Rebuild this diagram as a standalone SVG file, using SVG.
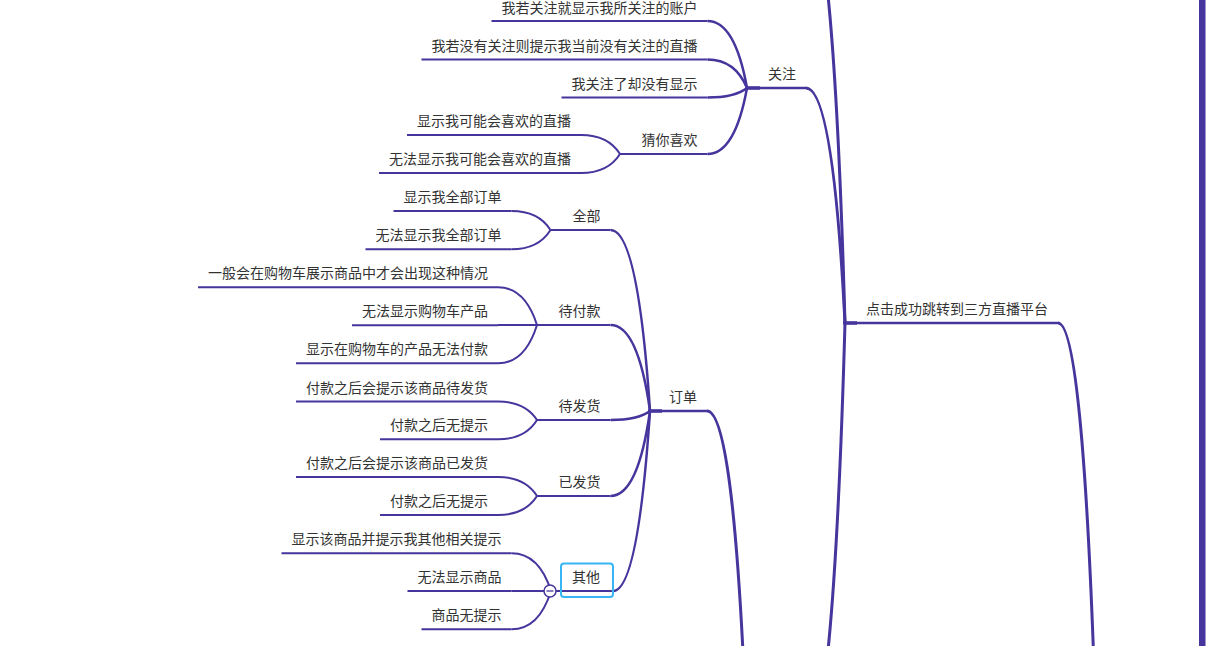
<svg xmlns="http://www.w3.org/2000/svg" width="1217" height="646" viewBox="0 0 1217 646">
<style>
  .t{font-family:"Noto Sans CJK SC","Noto Sans",sans-serif;font-size:14px;fill:#333;text-anchor:end}
  .u{stroke:#45359c;stroke-width:2;fill:none;stroke-linecap:butt}
  .um{stroke:#45359c;stroke-width:2.5;fill:none}
  .j{stroke:#45359c;stroke-width:3.5;fill:none}
  .c1{stroke:#45359c;stroke-width:3;fill:none}
  .c2{stroke:#45359c;stroke-width:2.5;fill:none}
  .c3{stroke:#45359c;stroke-width:2;fill:none}
</style>
<rect x="0" y="0" width="1217" height="646" fill="#ffffff"/>
<rect x="1199" y="0" width="6.5" height="646" fill="#45359c"/>

<g id="connectors">
  <path class="c1" d="M1098,800 Q1086,323 1058,323"/>
  <path class="c1" d="M845,323 Q833,-100 805,-100"/>
  <path class="c1" d="M845,323 Q833,88 806,88"/>
  <path class="c1" d="M845,323 Q833,746 805,746"/>
  <path class="c1" d="M747,746 Q735,411 707,411"/>

  <path class="c2" d="M747,88 Q735,21 707.5,21"/>
  <path class="c2" d="M747,88 Q735,59.5 707.5,59.5"/>
  <path class="c2" d="M747,88 Q735,97.5 707.5,97.5"/>
  <path class="c2" d="M747,88 Q735,154 707.5,154"/>

  <path class="c3" d="M620,154 Q608,135 581,135"/>
  <path class="c3" d="M620,154 Q608,173 581,173"/>

  <path class="c2" d="M650,411 Q638,230 610.5,230"/>
  <path class="c2" d="M650,411 Q638,325 610.5,325"/>
  <path class="c2" d="M650,411 Q638,420 610.5,420"/>
  <path class="c2" d="M650,411 Q638,496 610.5,496"/>
  <path class="c2" d="M650,411 Q638,591 613,591"/>

  <path class="c3" d="M550.5,230 Q538.5,211 511.5,211"/>
  <path class="c3" d="M550.5,230 Q538.5,249.3 511.5,249.3"/>

  <path class="c3" d="M537,325 Q525,287.3 498,287.3"/>
  <path class="c3" d="M537,325 L498,325"/>
  <path class="c3" d="M537,325 Q525,363.3 498,363.3"/>

  <path class="c3" d="M537,420 Q525,401.5 498,401.5"/>
  <path class="c3" d="M537,420 Q525,439.3 498,439.3"/>

  <path class="c3" d="M537,496 Q525,477 498,477"/>
  <path class="c3" d="M537,496 Q525,515 498,515"/>

  <path class="c3" d="M551,591 Q539,553.3 511.5,553.3"/>
  <path class="c3" d="M551,591 L511.5,591"/>
  <path class="c3" d="M551,591 Q539,629.3 511.5,629.3"/>
</g>

<g id="n-dianji">
  <line class="um" x1="845" y1="323" x2="1058" y2="323"/>
  <line class="j" x1="843" y1="323" x2="857" y2="323"/>
  <text class="t" x="1048" y="314">点击成功跳转到三方直播平台</text>
</g>

<g id="n-guanzhu">
  <line class="um" x1="747" y1="88" x2="806" y2="88"/>
  <line class="j" x1="746" y1="88" x2="760" y2="88"/>
  <text class="t" x="796" y="79">关注</text>
</g>
<g id="n-gz1">
  <line class="u" x1="491.5" y1="21" x2="707.5" y2="21"/>
  <text class="t" x="697.5" y="13">我若关注就显示我所关注的账户</text>
</g>
<g id="n-gz2">
  <line class="u" x1="421.5" y1="59.5" x2="707.5" y2="59.5"/>
  <text class="t" x="697.5" y="50.5">我若没有关注则提示我当前没有关注的直播</text>
</g>
<g id="n-gz3">
  <line class="u" x1="561.5" y1="97.5" x2="707.5" y2="97.5"/>
  <text class="t" x="697.5" y="88.5">我关注了却没有显示</text>
</g>
<g id="n-cainixihuan">
  <line class="u" x1="620" y1="154" x2="707.5" y2="154"/>
  <text class="t" x="697.5" y="145">猜你喜欢</text>
</g>
<g id="n-cn1">
  <line class="u" x1="407" y1="135" x2="581" y2="135"/>
  <text class="t" x="571" y="126">显示我可能会喜欢的直播</text>
</g>
<g id="n-cn2">
  <line class="u" x1="379" y1="173" x2="581" y2="173"/>
  <text class="t" x="571" y="164">无法显示我可能会喜欢的直播</text>
</g>

<g id="n-dingdan">
  <line class="um" x1="650" y1="411" x2="707" y2="411"/>
  <line class="j" x1="648" y1="411" x2="662" y2="411"/>
  <text class="t" x="697" y="402">订单</text>
</g>

<g id="n-quanbu">
  <line class="u" x1="550.5" y1="230" x2="610.5" y2="230"/>
  <text class="t" x="600.5" y="221">全部</text>
</g>
<g id="n-qb1">
  <line class="u" x1="393.5" y1="211" x2="511.5" y2="211"/>
  <text class="t" x="501.5" y="202">显示我全部订单</text>
</g>
<g id="n-qb2">
  <line class="u" x1="365.5" y1="249.3" x2="511.5" y2="249.3"/>
  <text class="t" x="501.5" y="240.3">无法显示我全部订单</text>
</g>

<g id="n-daifukuan">
  <line class="u" x1="537" y1="325" x2="610.5" y2="325"/>
  <text class="t" x="600.5" y="316">待付款</text>
</g>
<g id="n-df1">
  <line class="u" x1="198" y1="287.3" x2="498" y2="287.3"/>
  <text class="t" x="488" y="278.3">一般会在购物车展示商品中才会出现这种情况</text>
</g>
<g id="n-df2">
  <line class="u" x1="352" y1="325.3" x2="498" y2="325.3"/>
  <text class="t" x="488" y="316.3">无法显示购物车产品</text>
</g>
<g id="n-df3">
  <line class="u" x1="296" y1="363.3" x2="498" y2="363.3"/>
  <text class="t" x="488" y="354.3">显示在购物车的产品无法付款</text>
</g>

<g id="n-daifahuo">
  <line class="u" x1="537" y1="420" x2="610.5" y2="420"/>
  <text class="t" x="600.5" y="411">待发货</text>
</g>
<g id="n-dfh1">
  <line class="u" x1="296" y1="401.5" x2="498" y2="401.5"/>
  <text class="t" x="488" y="392.5">付款之后会提示该商品待发货</text>
</g>
<g id="n-dfh2">
  <line class="u" x1="380" y1="439.3" x2="498" y2="439.3"/>
  <text class="t" x="488" y="430.3">付款之后无提示</text>
</g>

<g id="n-yifahuo">
  <line class="u" x1="537" y1="496" x2="610.5" y2="496"/>
  <text class="t" x="600.5" y="487">已发货</text>
</g>
<g id="n-yfh1">
  <line class="u" x1="296" y1="477" x2="498" y2="477"/>
  <text class="t" x="488" y="468">付款之后会提示该商品已发货</text>
</g>
<g id="n-yfh2">
  <line class="u" x1="380" y1="515" x2="498" y2="515"/>
  <text class="t" x="488" y="506">付款之后无提示</text>
</g>

<g id="n-qita">
  <line class="u" x1="551" y1="591" x2="613" y2="591"/>
  <rect x="561" y="563.5" width="52" height="33.5" rx="3" ry="3" fill="none" stroke="#38b6f4" stroke-width="2"/>
  <text class="t" x="600" y="582">其他</text>
  <circle cx="550" cy="591" r="6" fill="#ffffff" stroke="#45359c" stroke-width="1.5"/>
  <line x1="546.5" y1="591" x2="553.5" y2="591" stroke="#45359c" stroke-width="1.3"/>
</g>
<g id="n-qt1">
  <line class="u" x1="281.5" y1="553.3" x2="511.5" y2="553.3"/>
  <text class="t" x="501.5" y="544.3">显示该商品并提示我其他相关提示</text>
</g>
<g id="n-qt2">
  <line class="u" x1="407.5" y1="591" x2="511.5" y2="591"/>
  <text class="t" x="501.5" y="582">无法显示商品</text>
</g>
<g id="n-qt3">
  <line class="u" x1="421.5" y1="629.3" x2="511.5" y2="629.3"/>
  <text class="t" x="501.5" y="620.3">商品无提示</text>
</g>
</svg>
